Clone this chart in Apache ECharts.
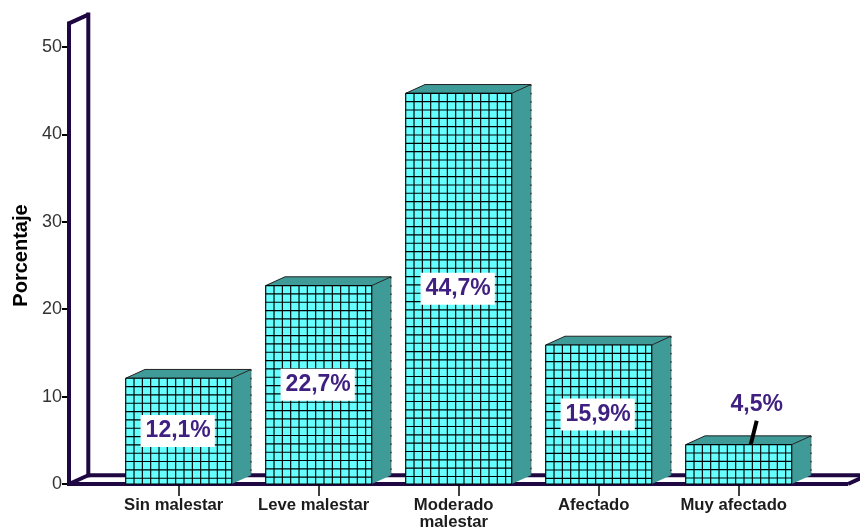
<!DOCTYPE html>
<html><head><meta charset="utf-8">
<style>html,body{margin:0;padding:0;background:#fff}#c{width:860px;height:531px}</style>
<script src="https://cdn.jsdelivr.net/npm/echarts@6/dist/echarts.min.js"></script>
</head><body><div id="c"></div>
<script>
var categories = ['Sin malestar', 'Leve malestar', 'Moderado\nmalestar', 'Afectado', 'Muy afectado'];
var values = [12.1, 22.7, 44.7, 15.9, 4.5];
var valueLabels = ['12,1%', '22,7%', '44,7%', '15,9%', '4,5%'];
var yTicks = [0, 50];
var wallTopValue = [52.7];

var FONT = '"Liberation Sans", Arial, sans-serif';
var DX = 19.3, DY = 8.8, CELL = 8.33, BAR_RATIO = 106 / 140;
var WALL_OFFSET = 39.7, FLOOR_END = 848;
var PURPLE = '#1F0742', TEAL = '#3F9B98', CYAN = '#66FFFF', INK = '#3F1F80';
var GRID_W = 1.15;
var OUTSIDE_BELOW = 6;

function line(x1, y1, x2, y2, stroke, w, dash) {
  return { type: 'line', silent: true,
    shape: { x1: x1, y1: y1, x2: x2, y2: y2 },
    style: { stroke: stroke, lineWidth: w, lineDash: dash || null, fill: null } };
}
function poly(pts, fill, stroke, w) {
  return { type: 'polygon', silent: true, shape: { points: pts },
    style: { fill: fill, stroke: stroke || null, lineWidth: w || 0 } };
}

function renderFrame(params, api) {
  var o = api.coord([0, 0]);
  var top = api.coord([0, api.value(0)])[1];
  var cs = params.coordSys;
  var xF = cs.x - WALL_OFFSET, xB = xF + DX, y0 = o[1], yB = y0 - DY, W = 4;
  return { type: 'group', children: [
    line(xF, y0 + 2, xF, top - 2, PURPLE, W),
    line(xB, yB + 2, xB, top - DY - 2, PURPLE, W),
    line(xF, top, xB, top - DY, PURPLE, W),
    line(xF, y0, xB, yB, PURPLE, W),
    line(xF, y0, FLOOR_END, y0, PURPLE, W),
    line(xB, yB, 870, yB, PURPLE, W),
    line(FLOOR_END, y0, FLOOR_END + DX, yB, PURPLE, W)
  ] };
}

function renderBar(params, api) {
  var i = params.dataIndex, v = api.value(1);
  var c = api.coord([i, v]), b = api.coord([i, 0]);
  var w = api.size([1, 0])[0] * BAR_RATIO;
  var L = c[0] - w / 2, R = c[0] + w / 2, T = c[1], B = b[1];
  var ch = [
    poly([[R, T], [R + DX, T - DY], [R + DX, B - DY], [R, B]], TEAL),
    poly([[L, T], [L + DX, T - DY], [R + DX, T - DY], [R, T]], TEAL, '#222', 1),
    line(R + DX, T - DY, R + DX, B - DY, '#555', 0.7),
    line(R + DX, T - DY, R + DX, B - DY, '#111', 1, [1.5, 6.83]),
    { type: 'rect', silent: true, shape: { x: L, y: T, width: w, height: B - T }, style: { fill: CYAN } }
  ];
  var x, y;
  for (x = L; x < R; x += CELL) ch.push(line(x, T, x, B, '#000', GRID_W));
  ch.push(line(R, T, R, B, '#000', GRID_W));
  for (y = T; y < B; y += CELL) ch.push(line(L, y, R, y, '#000', GRID_W));
  ch.push(line(L, B, R, B, '#000', GRID_W));
  var text = { text: valueLabels[i], font: 'bold 23px ' + FONT, fill: INK, align: 'center', verticalAlign: 'middle' };
  if (v < OUTSIDE_BELOW) {
    ch.push(line(c[0] + 18, T - 24, c[0] + 12, T, '#000', 4));
    text.x = c[0] + 18; text.y = T - 40;
  } else {
    text.x = c[0] - 1; text.y = (T + B) / 2;
    text.backgroundColor = '#fff';
    text.padding = [4, 4, 5, 5];
  }
  ch.push({ type: 'text', silent: true, style: text });
  return { type: 'group', children: ch };
}

var chart = echarts.init(document.getElementById('c'), null, { renderer: 'canvas' });
chart.setOption({
  animation: false,
  backgroundColor: '#fff',
  grid: { left: 108.7, width: 700, top: 47, height: 437 },
  xAxis: {
    type: 'category', data: categories,
    axisLine: { show: false },
    axisTick: { show: true, alignWithLabel: true, length: 12, lineStyle: { color: '#000', width: 1.5 } },
    axisLabel: { color: '#1c1c1c', fontFamily: FONT, fontWeight: 'bold', fontSize: 16.7, lineHeight: 17, margin: 13, interval: 0, padding: [0, 10, 0, 0] },
    z: 1
  },
  yAxis: {
    type: 'value', min: yTicks[0], max: yTicks[1], interval: 10, offset: WALL_OFFSET,
    splitLine: { show: false },
    axisLine: { show: false },
    axisTick: { show: true, length: 7, lineStyle: { color: '#000', width: 2 } },
    axisLabel: { color: '#333', fontFamily: FONT, fontSize: 18, margin: 7 },
    name: 'Porcentaje', nameLocation: 'middle', nameRotate: 90, nameGap: 38,
    nameTextStyle: { color: '#000', fontFamily: FONT, fontWeight: 'bold', fontSize: 20, padding: [0, 0, 0, 20] }
  },
  series: [
    { type: 'custom', clip: false, silent: true, z: 1, data: [wallTopValue],
      encode: { y: 0 }, renderItem: renderFrame },
    { type: 'custom', clip: false, silent: true, z: 3,
      data: values.map(function (v, i) { return [i, v]; }),
      encode: { x: 0, y: 1 }, renderItem: renderBar }
  ]
});
</script></body></html>
